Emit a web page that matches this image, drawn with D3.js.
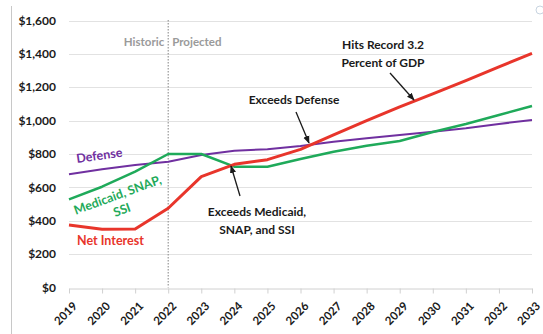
<!DOCTYPE html>
<html>
<head>
<meta charset="utf-8">
<script src="https://cdn.jsdelivr.net/npm/d3@7"></script>
<style>
  html, body { margin: 0; padding: 0; background: #fff; }
  svg { display: block; font-family: Lato, "Open Sans", sans-serif; }
</style>
</head>
<body>
<svg id="chart" width="543" height="334"></svg>
<script>
// Federal outlays, billions of dollars
const years = [2019, 2020, 2021, 2022, 2023, 2024, 2025, 2026, 2027, 2028, 2029, 2030, 2031, 2032, 2033];
const netInterest = [374, 349, 350, 475, 664, 738, 766, 828, 915, 1000, 1083, 1160, 1240, 1322, 1403];
const defense = [678, 708, 734, 754, 794, 820, 828, 848, 874, 894, 914, 934, 954, 980, 1004];
const medicaid = [528, 604, 694, 800, 800, 724, 724, 770, 814, 850, 878, 932, 980, 1034, 1088];
const yTicks = [0, 200, 400, 600, 800, 1000, 1200, 1400, 1600];

const svg = d3.select("#chart");
const x = d3.scalePoint().domain(years).range([69, 532]);
const y = d3.scaleLinear().domain([0, 1600]).range([287.5, 20.5]);

// frame edge on the left
svg.append("line").attr("x1", 11.5).attr("x2", 11.5).attr("y1", 6).attr("y2", 334)
  .attr("stroke", "#c8c8c8").attr("stroke-width", 1);

// horizontal gridlines
svg.append("g").selectAll("line").data(yTicks.filter(d => d > 0)).join("line")
  .attr("x1", 69).attr("x2", 532)
  .attr("y1", d => Math.round(y(d)) + 0.5).attr("y2", d => Math.round(y(d)) + 0.5)
  .attr("stroke", "#e2e2e2").attr("stroke-width", 1);

// y-axis labels
svg.append("g").selectAll("text").data(yTicks).join("text")
  .attr("x", 56).attr("y", d => y(d)).attr("dy", "0.35em")
  .attr("text-anchor", "end").attr("font-size", 12).attr("font-weight", 700)
  .attr("fill", "#1a1a1a")
  .text(d => d3.format("$,")(d));

// x axis
const xAxis = svg.append("g").attr("transform", `translate(0,${Math.round(y(0)) + 0.5})`)
  .call(d3.axisBottom(x).tickSize(5).tickSizeOuter(0).tickFormat(d3.format("d")));
xAxis.select(".domain").attr("stroke", "#d0d0d0");
xAxis.selectAll(".tick line").attr("stroke", "#d0d0d0");
xAxis.selectAll(".tick text")
  .attr("font-family", "Lato, 'Open Sans', sans-serif")
  .attr("font-size", 11.5).attr("font-weight", 700).attr("fill", "#1a1a1a")
  .attr("text-anchor", "end").attr("dy", 0).attr("x", -7).attr("y", 19)
  .attr("transform", "rotate(-45)");

// historic / projected divider
const xDiv = x(2022);
svg.append("line").attr("x1", xDiv).attr("x2", xDiv).attr("y1", 20).attr("y2", y(0))
  .attr("stroke", "#999").attr("stroke-width", 1.2).attr("stroke-dasharray", "1.5,1.5");
svg.append("text").attr("x", xDiv - 4).attr("y", 46).attr("text-anchor", "end")
  .attr("font-size", 11.5).attr("font-weight", 700).attr("fill", "#9a9a9a").text("Historic");
svg.append("text").attr("x", xDiv + 4).attr("y", 46).attr("text-anchor", "start")
  .attr("font-size", 11.5).attr("font-weight", 700).attr("fill", "#9a9a9a").text("Projected");

// series lines
const line = d3.line().x((d, i) => x(years[i])).y(d => y(d));
const series = [
  { values: defense, color: "#7030a0", width: 2 },
  { values: medicaid, color: "#1faa5a", width: 2.5 },
  { values: netInterest, color: "#e8352b", width: 3 }
];
svg.append("g").selectAll("path").data(series).join("path")
  .attr("d", d => line(d.values))
  .attr("fill", "none").attr("stroke", d => d.color).attr("stroke-width", d => d.width)
  .attr("stroke-linejoin", "round");

// series labels
svg.append("text").attr("transform", "translate(77,163) rotate(-8)")
  .attr("font-size", 12.5).attr("font-weight", 700).attr("fill", "#7030a0").text("Defense");
const med = svg.append("text").attr("transform", "translate(119,199) rotate(-20)")
  .attr("text-anchor", "middle").attr("font-size", 12.5).attr("font-weight", 700).attr("fill", "#1faa5a");
med.append("tspan").attr("x", 0).attr("y", 0).text("Medicaid, SNAP,");
med.append("tspan").attr("x", -1).attr("y", 15.5).text("SSI");
svg.append("text").attr("x", 77).attr("y", 245)
  .attr("font-size", 12.5).attr("font-weight", 700).attr("fill", "#e8352b").text("Net Interest");

// callouts
const defs = svg.append("defs");
defs.append("marker").attr("id", "arrow").attr("viewBox", "0 0 10 10")
  .attr("refX", 9).attr("refY", 5).attr("markerWidth", 6).attr("markerHeight", 6)
  .attr("orient", "auto")
  .append("path").attr("d", "M0,1 L10,5 L0,9 Z").attr("fill", "#1a1a1a");

function callout(lines, cx, cy, from, to) {
  const t = svg.append("text").attr("text-anchor", "middle")
    .attr("font-size", 12).attr("font-weight", 700).attr("fill", "#1a1a1a");
  lines.forEach((s, i) => t.append("tspan").attr("x", cx).attr("y", cy + i * 18).text(s));
  svg.append("line").attr("x1", from[0]).attr("y1", from[1]).attr("x2", to[0]).attr("y2", to[1])
    .attr("stroke", "#1a1a1a").attr("stroke-width", 1.3).attr("marker-end", "url(#arrow)");
}
callout(["Exceeds Defense"], 294, 104, [296, 112], [309, 143]);
callout(["Hits Record 3.2", "Percent of GDP"], 383, 49, [390, 73], [414, 100]);
callout(["Exceeds Medicaid,", "SNAP, and SSI"], 257, 216, [240, 196], [231, 166]);

// small corner icon
svg.append("circle").attr("cx", 540).attr("cy", 10).attr("r", 4)
  .attr("fill", "none").attr("stroke", "#c8d4e0").attr("stroke-width", 1);
</script>
</body>
</html>
